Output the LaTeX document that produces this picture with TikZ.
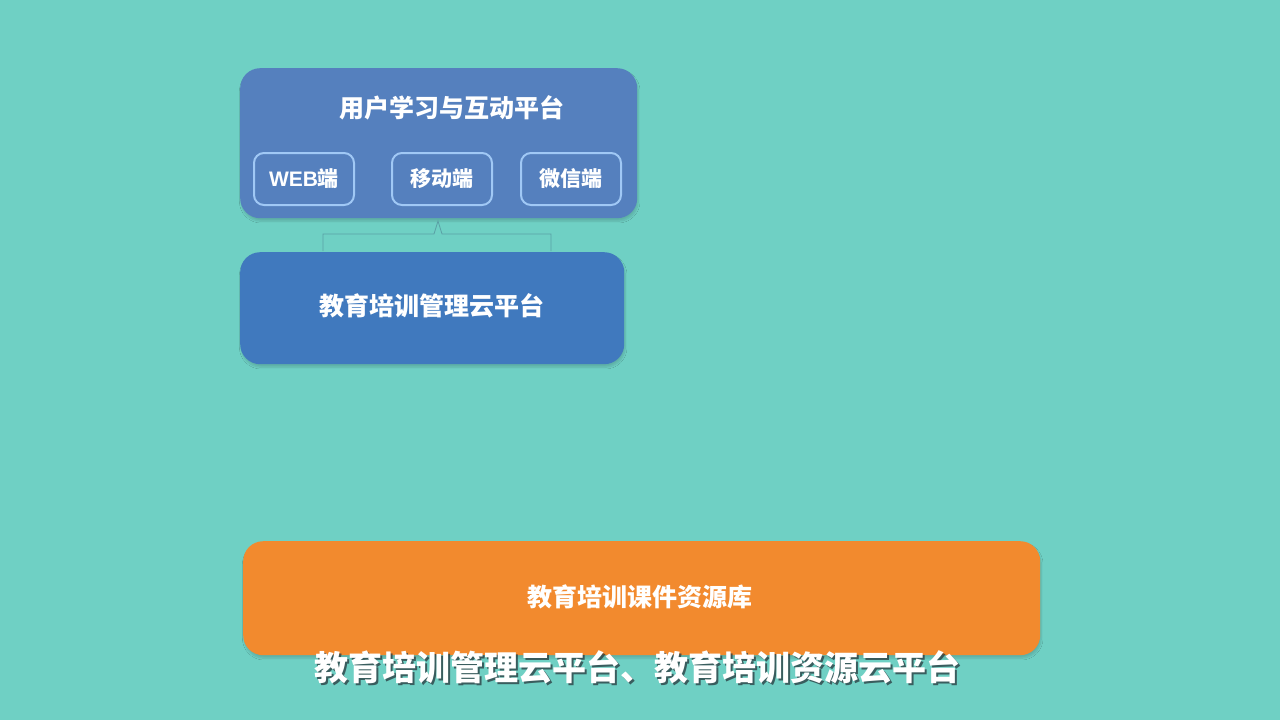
\documentclass[tikz,border=0pt]{standalone}
\usepackage{fontspec}
\newfontfamily\cjk{Noto Sans CJK SC}
\newfontfamily\latin{Liberation Sans}
\usetikzlibrary{shadows.blur}
\definecolor{bg}{RGB}{111,208,196}
\definecolor{topblue}{RGB}{85,128,190}
\definecolor{midblue}{RGB}{64,121,190}
\definecolor{subborder}{RGB}{160,200,245}
\definecolor{orangebox}{RGB}{242,138,46}
\definecolor{bracketcol}{RGB}{90,160,165}
\definecolor{subshadow}{RGB}{40,55,60}
\tikzset{
  panel/.style={rounded corners=20pt, inner sep=0pt, anchor=north west,
    blur shadow={shadow xshift=1pt, shadow yshift=-3pt, shadow opacity=15, shadow blur steps=10}},
  subbox/.style={draw=subborder, line width=2pt, fill=topblue, rounded corners=10pt,
    minimum width=100pt, minimum height=52pt, inner sep=0pt, text=white,
    font=\cjk\bfseries\fontsize{21}{24}\selectfont},
  lbl/.style={text=white, font=\cjk\bfseries\fontsize{25}{29}\selectfont, inner sep=0pt},
}
\begin{document}
\begin{tikzpicture}[x=1pt,y=-1pt]
\fill[bg] (0,0) rectangle (1280,720);
\useasboundingbox (0,0) rectangle (1280,720);
% panels
\node[panel, fill=topblue, minimum width=397pt, minimum height=150pt] (top) at (240,68) {};
\node[panel, fill=midblue, minimum width=384pt, minimum height=112pt] (mid) at (240,252) {};
\node[panel, fill=orangebox, minimum width=797pt, minimum height=114pt] (res) at (243,541) {};
% labels
\node[lbl] (toptitle) at (452,108) {用户学习与互动平台};
\node[lbl] (midtitle) at (432,306) {教育培训管理云平台};
\node[lbl] (restitle) at (640,597) {教育培训课件资源库};
% sub boxes
\node[subbox] (web) at (304,179) {{\latin\bfseries WEB}端};
\node[subbox] (mob) at (442,179) {移动端};
\node[subbox] (wx) at (571,179) {微信端};
% bracket connector
\coordinate (b1) at (323,251);
\coordinate (b2) at (323,234);
\coordinate (b3) at (434,234);
\coordinate (b4) at (438,221);
\coordinate (b5) at (442,234);
\coordinate (b6) at (551,234);
\coordinate (b7) at (551,251);
\draw[bracketcol, line width=0.8pt] (b1) -- (b2) -- (b3) -- (b4) -- (b5) -- (b6) -- (b7);
% subtitle
\node[text=subshadow, opacity=0.75, font=\cjk\bfseries\fontsize{34}{39}\selectfont, inner sep=0pt] (subsh) at (639.5,669.5) {教育培训管理云平台、教育培训资源云平台};
\node[text=white, font=\cjk\bfseries\fontsize{34}{39}\selectfont, inner sep=0pt] (sub) at (637,667) {教育培训管理云平台、教育培训资源云平台};
\end{tikzpicture}
\end{document}
